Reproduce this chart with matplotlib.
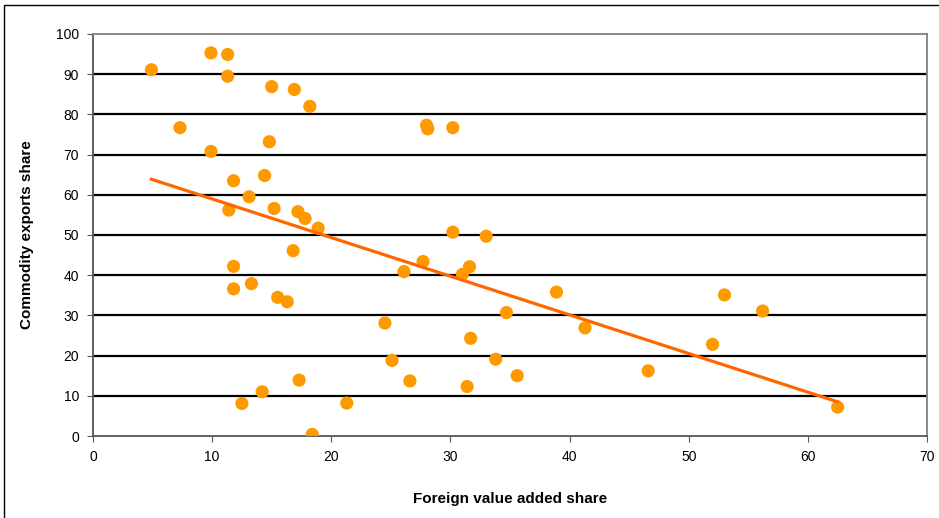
import matplotlib.pyplot as plt
import numpy as np

# foreign value added share vs commodity exports share
fva_share = [4.9, 9.9, 11.3, 11.3, 15.0, 16.9, 18.2, 7.3, 28.0, 28.1, 30.2,
             9.9, 14.8, 14.4, 11.8, 13.1, 11.4, 15.2, 17.2, 17.8, 18.9,
             30.2, 33.0, 16.8, 27.7, 26.1, 31.0, 31.6, 11.8, 11.8, 13.3,
             15.5, 16.3, 38.9, 53.0, 56.2, 34.7, 24.5, 41.3, 31.7, 52.0,
             25.1, 33.8, 46.6, 35.6, 17.3, 26.6, 31.4, 14.2, 12.5, 21.3,
             18.4, 62.5]
commodity_share = [91.1, 95.3, 94.9, 89.5, 86.9, 86.2, 82.0, 76.7, 77.3, 76.4, 76.7,
                   70.8, 73.2, 64.8, 63.5, 59.5, 56.2, 56.6, 55.8, 54.1, 51.7,
                   50.7, 49.7, 46.1, 43.4, 40.9, 40.2, 42.1, 42.2, 36.6, 37.9,
                   34.5, 33.4, 35.8, 35.1, 31.1, 30.7, 28.1, 26.9, 24.3, 22.8,
                   18.8, 19.1, 16.2, 15.0, 13.9, 13.7, 12.3, 11.0, 8.1, 8.2,
                   0.4, 7.2]

x = np.array(fva_share)
y = np.array(commodity_share)
slope, intercept = np.polyfit(x, y, 1)
xfit = np.array([x.min(), x.max()])

plt.rcParams['font.family'] = ['Liberation Sans', 'DejaVu Sans']

fig = plt.figure(figsize=(9.39, 5.18), dpi=100)
ax = fig.add_axes([93 / 939, 1 - 436 / 518, 834 / 939, 402 / 518])

# outer chart border (right and bottom edges fall outside the image)
fig.patches.append(plt.Rectangle((4 / 939, -0.01), 1.0, 1 - 5 / 518 + 0.01,
                                 transform=fig.transFigure, fill=False,
                                 edgecolor='black', linewidth=1))

for v in range(10, 100, 10):
    ax.axhline(v, color='black', linewidth=1.6, zorder=1)

ax.scatter(x, y, s=90, color='#FF9900', edgecolors='none', zorder=3)
ax.plot(xfit, intercept + slope * xfit, color='#FF6600', linewidth=2.3, zorder=4)

ax.set_xlim(0, 70)
ax.set_ylim(0, 100)
ax.set_xticks(range(0, 71, 10))
ax.set_yticks(range(0, 101, 10))
ax.tick_params(labelsize=10, length=4, color='#555555', pad=6)

for side in ['top', 'right']:
    ax.spines[side].set_color('#808080')
for side in ['left', 'bottom']:
    ax.spines[side].set_color('#555555')
for s in ax.spines.values():
    s.set_linewidth(1.3)

ax.set_xlabel('Foreign value added share', fontsize=11, fontweight='bold', labelpad=20)
ax.set_ylabel('Commodity exports share', fontsize=11, fontweight='bold', labelpad=16)

fig.savefig('out.png', dpi=100)
